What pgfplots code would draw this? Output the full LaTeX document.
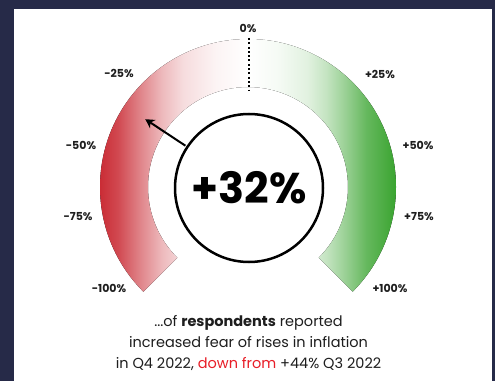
\documentclass[border=0pt]{standalone}
\usepackage{pgfplots}
\pgfplotsset{compat=1.18}
\usetikzlibrary{arrows.meta}
\usepackage{fontspec}
\setmainfont{Poppins}
\definecolor{navy}{RGB}{38,42,72}
\definecolor{gred}{RGB}{196,22,32}
\definecolor{ggreen}{RGB}{58,164,48}
\definecolor{txtred}{RGB}{232,30,40}
\definecolor{txt}{RGB}{30,30,30}
\pgfdeclarehorizontalshading{redsh}{100bp}{color(0bp)=(gred); color(25bp)=(gred); color(35bp)=(gred!78); color(42bp)=(gred!52); color(48.5bp)=(gred!30); color(55bp)=(gred!15); color(65bp)=(gred!5); color(75bp)=(white); color(100bp)=(white)}
\pgfdeclarehorizontalshading{greensh}{100bp}{color(0bp)=(white); color(25bp)=(white); color(35bp)=(ggreen!5); color(45bp)=(ggreen!15); color(51.5bp)=(ggreen!30); color(58bp)=(ggreen!52); color(65bp)=(ggreen!78); color(75bp)=(ggreen); color(100bp)=(ggreen)}
\begin{document}
\begin{tikzpicture}
\begin{axis}[x=1pt,y=1pt,xmin=0,xmax=495,ymin=0,ymax=381,hide axis,clip=false,scale only axis]
% frame
\fill[navy] (axis cs:0,0) rectangle (axis cs:495,381);
\fill[white] (axis cs:14,0) rectangle (axis cs:492,372);
\coordinate (C) at (axis cs:248,194);
% gauge arcs
\fill[shading=redsh] ([shift={(225:148pt)}]C) arc[start angle=225,end angle=90,radius=148pt] -- ([shift={(90:100pt)}]C) arc[start angle=90,end angle=225,radius=100pt] -- cycle;
\fill[shading=greensh] ([shift={(90:148pt)}]C) arc[start angle=90,end angle=-45,radius=148pt] -- ([shift={(-45:100pt)}]C) arc[start angle=-45,end angle=90,radius=100pt] -- cycle;
% zero marker
\draw[black, line width=2pt, dash pattern=on 2pt off 2.3pt] (axis cs:249,343) -- (axis cs:249,290);
% needle
\addplot[black, line width=2pt, -{Stealth[length=9pt,width=10pt]}] coordinates {(185.4,235.3) (145.3,261.8)};
% centre circle
\draw[black, line width=2.5pt, fill=white] (axis cs:249,193) circle[radius=74pt];
\node[font=\fontsize{43}{43}\selectfont\bfseries, text=black] at (axis cs:249,193.5) {+32\%};
% scale labels
\begin{scope}[every node/.style={font=\fontsize{11}{13}\selectfont\bfseries, text=txt}]
\node at (axis cs:248,353) {0\%};
\node at (axis cs:119,308) {-25\%};
\node at (axis cs:81,236) {-50\%};
\node at (axis cs:78,164) {-75\%};
\node at (axis cs:109,93) {-100\%};
\node at (axis cs:380,307) {+25\%};
\node at (axis cs:418,236) {+50\%};
\node at (axis cs:419,164) {+75\%};
\node at (axis cs:390,93) {+100\%};
\end{scope}
% caption
\node[align=center, text=txt, font=\fontsize{14.5}{21}\selectfont] at (axis cs:248.5,38) {...of \textbf{respondents} reported\\increased fear of rises in inflation\\in Q4 2022, \textcolor{txtred}{down from} +44\% Q3 2022};
\end{axis}
\end{tikzpicture}
\end{document}
